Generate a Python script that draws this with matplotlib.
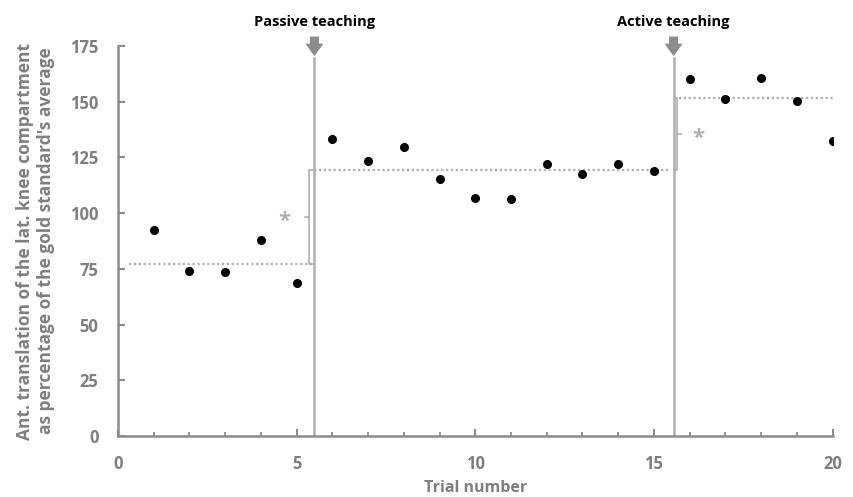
import numpy as np
import matplotlib.pyplot as plt
from matplotlib.ticker import MultipleLocator

plt.rcParams['font.family'] = ['Open Sans', 'DejaVu Sans']

trials = [1, 2, 3, 4, 5, 6, 7, 8, 9, 10, 11, 12, 13, 14, 15, 16, 17, 18, 19, 20]
valores = [92.4, 74.0, 73.6, 87.9, 68.6, 133.4, 123.4, 129.7, 115.3, 106.6,
           106.3, 122.0, 117.5, 122.2, 118.9, 160.2, 151.4, 160.6, 150.3, 132.5]

# promedios por fase: (inicio, fin, valor)
fases_ini = [0.3, 5.5, 15.55]
fases_fin = [5.45, 15.45, 20.2]
promedios = [77.2, 119.5, 151.8]

cambios = [5.5, 15.55]
etiquetas = ['Passive teaching', 'Active teaching']

gris = '#8c8c8c'
gris_claro = '#b0b0b0'

fig = plt.figure(figsize=(8.54, 4.97), dpi=100)
ax = fig.add_axes([0.138, 0.1227, 0.837, 0.7847])

for x0, x1, p in zip(fases_ini, fases_fin, promedios):
    ax.plot([x0, x1], [p, p], linestyle=(0, (1, 1.2)), color=gris_claro, lw=1.6, zorder=2)

for c, et in zip(cambios, etiquetas):
    ax.plot([c, c], [0, 169.5], color=gris_claro, lw=1.8, zorder=1)
    ax.annotate('', xy=(c, 169.2), xytext=(c, 180.5), annotation_clip=False,
                arrowprops=dict(arrowstyle='simple,head_width=1.3,head_length=0.9,tail_width=0.65',
                                color=gris, lw=0))
    ax.text(c, 185.8, et, ha='center', va='center',
            fontsize=10.5, fontweight='bold', color='black', clip_on=False)

# llave de significancia 1
bx = 5.34
ax.plot([5.46, bx, bx, 5.46], [promedios[0], promedios[0], promedios[1], promedios[1]],
        color=gris_claro, lw=1.2, zorder=2)
m = (promedios[0] + promedios[1]) / 2
ax.plot([bx, bx - 0.1], [m, m], color=gris_claro, lw=1.2)
ax.text(4.65, m - 2.0, '*', ha='center', va='center', fontsize=16, fontweight='bold', color=gris_claro)

# llave de significancia 2
bx = 15.65
ax.plot([15.56, bx, bx, 15.56], [promedios[1], promedios[1], promedios[2], promedios[2]],
        color=gris_claro, lw=1.2, zorder=2)
m = (promedios[1] + promedios[2]) / 2
ax.plot([bx, bx + 0.1], [m, m], color=gris_claro, lw=1.2)
ax.text(16.25, m - 2.0, '*', ha='center', va='center', fontsize=16, fontweight='bold', color=gris_claro)

ax.plot(trials, valores, 'o', color='black', markersize=5.5, zorder=5)

ax.set_xlim(0, 20)
ax.set_ylim(0, 175)
ax.xaxis.set_major_locator(MultipleLocator(5))
ax.xaxis.set_minor_locator(MultipleLocator(1))
ax.yaxis.set_major_locator(MultipleLocator(25))

for s in ['top', 'right']:
    ax.spines[s].set_visible(False)
for s in ['left', 'bottom']:
    ax.spines[s].set_color(gris)
    ax.spines[s].set_linewidth(1.8)

ax.tick_params(axis='both', which='major', direction='in', length=5, width=1.5, color=gris,
               labelsize=12, labelcolor='#7f7f7f')
ax.tick_params(axis='x', which='minor', direction='in', length=3, width=1.3, color=gris)
ax.tick_params(axis='x', which='major', pad=14)
ax.tick_params(axis='y', which='major', pad=14)
for lb in ax.get_xticklabels() + ax.get_yticklabels():
    lb.set_fontweight('bold')

ax.set_xlabel('Trial number', fontsize=11.5, fontweight='bold', color='#7f7f7f', labelpad=5)
ax.set_ylabel("Ant. translation of the lat. knee compartment\nas percentage of the gold standard's average",
              fontsize=12.5, fontweight='bold', color='#7f7f7f', labelpad=11, linespacing=1.2)

plt.savefig('out.png', dpi=100)
